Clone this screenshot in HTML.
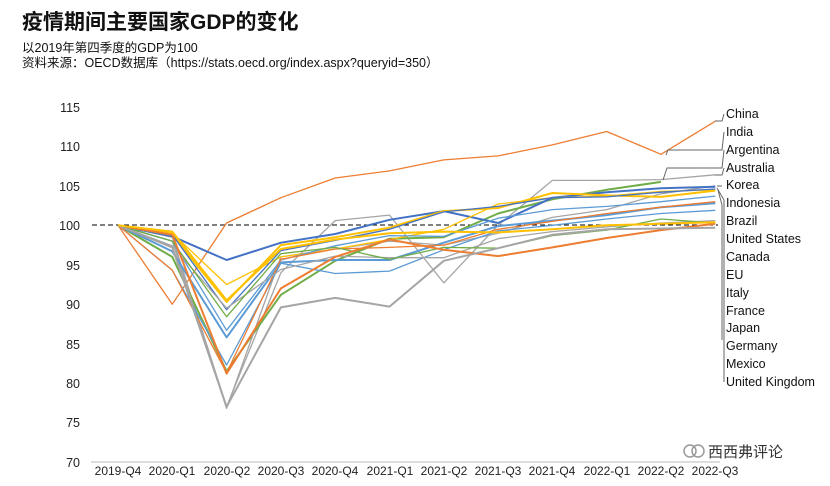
<!DOCTYPE html>
<html><head><meta charset="utf-8"><style>
body{margin:0;background:#fff;width:830px;height:486px;overflow:hidden;font-family:"Liberation Sans","Noto Sans CJK SC",sans-serif;}
.t{position:absolute;left:22px;top:6px;font-size:21px;font-weight:bold;color:#111;}
.s{position:absolute;left:22px;font-size:12.5px;color:#111;}
</style></head><body>
<div class="t">疫情期间主要国家GDP的变化</div>
<div class="s" style="top:37px">以2019年第四季度的GDP为100</div>
<div class="s" style="top:52px">资料来源：OECD数据库（https://stats.oecd.org/index.aspx?queryid=350）</div>
<svg id="c" width="830" height="486" style="position:absolute;left:0;top:0" font-family="Liberation Sans, Noto Sans CJK SC, sans-serif">
<g font-size="12.5" fill="#222" text-anchor="end">
<text x="80" y="112">115</text><text x="80" y="151">110</text><text x="80" y="191">105</text><text x="80" y="230">100</text>
<text x="80" y="270">95</text><text x="80" y="309">90</text><text x="80" y="349">85</text><text x="80" y="388">80</text>
<text x="80" y="427">75</text><text x="80" y="467">70</text>
</g>
<line x1="91" y1="462" x2="720" y2="462" stroke="#bbb"/>
<g font-size="12" fill="#222" text-anchor="middle">
<text x="118" y="475">2019-Q4</text><text x="172" y="475">2020-Q1</text><text x="227" y="475">2020-Q2</text><text x="281" y="475">2020-Q3</text>
<text x="335" y="475">2020-Q4</text><text x="390" y="475">2021-Q1</text><text x="444" y="475">2021-Q2</text><text x="498" y="475">2021-Q3</text>
<text x="552" y="475">2021-Q4</text><text x="607" y="475">2022-Q1</text><text x="661" y="475">2022-Q2</text><text x="715" y="475">2022-Q3</text>
</g>
<line x1="92" y1="225" x2="718" y2="225" stroke="#000" stroke-dasharray="5,3"/>
<g id="ser" fill="none" stroke-linejoin="round"></g>
<g stroke="#666" stroke-width="1" fill="none">
<polyline points="715,121 722,121 724,114"/>
<polyline points="666,155 668,150 722,150 724,132"/>
<polyline points="663,180 667,168 722,168 724,150"/>
<polyline points="715,175 722,175 724,168"/>
<polyline points="717,186 722,186"/>
<polyline points="717,188 724,200 724,382"/>
<polyline points="718,190 722,205 722,340"/>
</g>
<g font-size="12.5" fill="#111">
<text x="726" y="118">China</text><text x="726" y="136">India</text><text x="726" y="154">Argentina</text><text x="726" y="172">Australia</text>
<text x="726" y="189">Korea</text><text x="726" y="207">Indonesia</text><text x="726" y="225">Brazil</text><text x="726" y="243">United States</text>
<text x="726" y="261">Canada</text><text x="726" y="279">EU</text><text x="726" y="297">Italy</text><text x="726" y="315">France</text>
<text x="726" y="332">Japan</text><text x="726" y="350">Germany</text><text x="726" y="368">Mexico</text><text x="726" y="386">United Kingdom</text>
</g>
<g>
<circle cx="690" cy="451" r="6" fill="none" stroke="#999" stroke-width="1.5"/>
<circle cx="698" cy="451" r="6" fill="none" stroke="#999" stroke-width="1.5"/>
<text x="708" y="457" font-size="15" fill="#333">西西弗评论</text>
</g>
</svg>
<script>
var S=[
["#ed7d31",1.3,[100,90,100.3,103.5,106,106.9,108.3,108.8,110.2,111.9,109,113.2]],
["#a5a5a5",1.3,[100,98.5,77,94,100.6,101.3,92.7,100,105.7,105.7,105.8,106.4]],
["#70ad47",2,[100,96,81.5,91.2,95.5,98.3,98.5,101.5,103.3,104.5,105.5]],
["#a5a5a5",1.3,[100,98,76.8,96,97,98,97.5,99,101,102,104,105]],
["#4472c4",2,[100,98.6,95.6,97.8,98.9,100.7,101.8,100.3,103.5,104.2,104.7,104.9]],
["#ffc000",1.3,[100,99,92.5,96,97,98.2,99.5,102.7,103.5,103.7,104.3,104.5]],
["#ffc000",2,[100,98.8,90.3,97.5,98.5,99.7,101.8,102.2,104.1,103.8,103.6,104.4]],
["#4472c4",1.3,[100,98.8,89.3,96.8,98.1,99.5,101.7,102.4,103.5,103.6,104.2,104.6]],
["#5b9bd5",1.3,[100,98,86.7,95.6,97.4,98.7,98.6,100.9,102,102.4,103,103.7]],
["#5b9bd5",2,[100,96.7,85.8,95.3,95.6,95.6,97.8,99.9,100.6,101.3,102.3,102.8]],
["#5b9bd5",1.3,[100,94.3,82.3,95.2,93.9,94.2,96.9,99.3,100,100.8,101.5,101.9]],
["#ed7d31",1.3,[100,94.3,81.3,95.7,97,97.2,97.5,99.5,100.5,101.5,102.3,103]],
["#a5a5a5",1.3,[100,97.4,89.5,94.4,96.1,95.9,95.9,98.3,99.2,99.8,100.3,100.6]],
["#70ad47",1.3,[100,98,88.4,96.4,97.2,95.7,97.2,97.1,98.7,99.4,100.8,100.3]],
["#ed7d31",2,[100,98.8,81.2,92,96,98.2,96.9,96.1,97.2,98.4,99.4,100.2]],
["#a5a5a5",2,[100,97.2,77,89.6,90.8,89.7,95.5,97.1,98.8,99.5,99.6,99.7]],
["#ffc000",2,[100,99.2,90.5,97,98.2,99,99.2,99.1,99.5,100,100.2,100.4]]
];
var g=document.getElementById('ser'),h='';
S.forEach(function(s){var p=s[2].map(function(v,i){return (118+i*54.3).toFixed(1)+','+(462-(v-70)*7.889).toFixed(1)}).join(' ');
h+='<polyline points="'+p+'" stroke="'+s[0]+'" stroke-width="'+s[1]+'"/>';});
g.innerHTML=h;
</script>
</body></html>
